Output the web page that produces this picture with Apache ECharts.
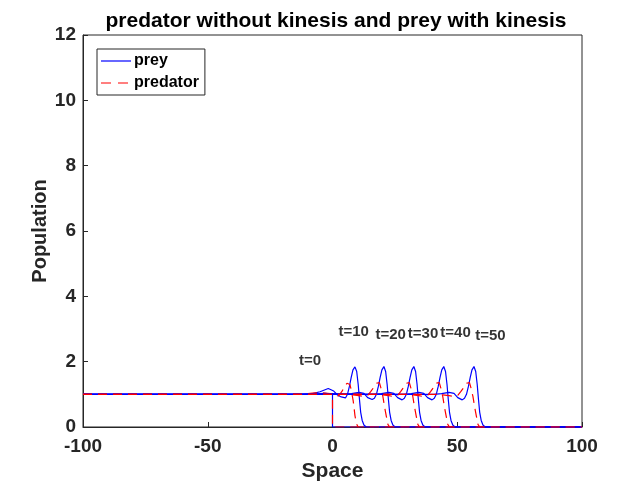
<!DOCTYPE html>
<html>
<head>
<meta charset="utf-8">
<script src="https://cdn.jsdelivr.net/npm/echarts@6/dist/echarts.min.js"></script>
<style>
  html, body { margin: 0; padding: 0; background: #fff; }
  #chart { width: 643px; height: 482px; }
</style>
</head>
<body>
<div id="chart"></div>
<script>
// snapshot times
var times = [0, 10, 20, 30, 40, 50]

// prey profiles [space, population], one per snapshot
var prey0 = [[-100, 1], [0, 1], [0, 0], [100, 0]]
var prey10 = [[-100, 1], [-14, 1], [-8, 1.02], [-5, 1.08], [-1.7, 1.18], [0.5, 1.1], [2, 0.98], [3.5, 0.92], [4.3, 0.88], [5.2, 0.89], [6.0, 1.0], [6.8, 1.25], [7.5, 1.52], [8.2, 1.75], [9.0, 1.84], [9.7, 1.7], [10.3, 1.3], [10.8, 0.85], [11.3, 0.45], [11.9, 0.2], [12.6, 0.06], [13.5, 0], [100, 0]]
var prey20 = [[-100, 1], [-10, 1], [-3, 1.03], [1, 1.0], [4.6, 1.0], [7.6, 1.02], [10.6, 1.06], [12.6, 1.03], [14.1, 0.9], [15.9, 0.84], [16.8, 0.88], [17.6, 1.0], [18.4, 1.25], [19.1, 1.52], [19.8, 1.75], [20.6, 1.85], [21.3, 1.7], [21.9, 1.3], [22.4, 0.85], [22.9, 0.45], [23.5, 0.2], [24.2, 0.06], [25.1, 0], [100, 0]]
var prey30 = [[-100, 1], [-6, 1], [0, 1.02], [8, 1.0], [16.6, 1.0], [19.6, 1.02], [22.6, 1.06], [24.6, 1.03], [26.1, 0.9], [27.9, 0.83], [28.8, 0.88], [29.6, 1.0], [30.4, 1.25], [31.1, 1.52], [31.8, 1.75], [32.6, 1.85], [33.3, 1.7], [33.9, 1.3], [34.4, 0.85], [34.9, 0.45], [35.5, 0.2], [36.2, 0.06], [37.1, 0], [100, 0]]
var prey40 = [[-100, 1], [-4, 1], [28.6, 1.0], [31.6, 1.02], [34.6, 1.06], [36.6, 1.03], [38.1, 0.9], [39.9, 0.83], [40.8, 0.88], [41.6, 1.0], [42.4, 1.25], [43.1, 1.52], [43.8, 1.75], [44.6, 1.85], [45.3, 1.7], [45.9, 1.3], [46.4, 0.85], [46.9, 0.45], [47.5, 0.2], [48.2, 0.06], [49.1, 0], [100, 0]]
var prey50 = [[-100, 1], [40.7, 1.0], [43.7, 1.02], [46.7, 1.06], [48.7, 1.03], [50.2, 0.9], [52.0, 0.83], [52.9, 0.88], [53.7, 1.0], [54.5, 1.25], [55.2, 1.52], [55.9, 1.75], [56.7, 1.85], [57.4, 1.7], [58.0, 1.3], [58.5, 0.85], [59.0, 0.45], [59.6, 0.2], [60.3, 0.06], [61.2, 0], [100, 0]]

// predator profiles
var pred0 = [[-100, 1], [0, 1], [0, 0], [100, 0]]
var pred10 = [[-100, 1], [-12, 1], [-8, 1.04], [-4, 1.05], [-1, 1.02], [1, 0.96], [2.5, 0.95], [3.7, 1.08], [5.0, 1.25], [5.8, 1.34], [6.4, 1.38], [7.0, 1.3], [7.6, 1.1], [8.3, 0.8], [9.0, 0.35], [9.6, 0.1], [10.3, 0], [100, 0]]
var pred20 = [[-100, 1], [-10, 1], [-2, 1.02], [6.6, 1.0], [10.6, 0.96], [12.6, 0.93], [14.1, 0.97], [15.3, 1.08], [16.6, 1.22], [17.6, 1.34], [18.2, 1.39], [18.8, 1.36], [19.4, 1.2], [20.2, 0.93], [20.9, 0.6], [21.6, 0.32], [22.2, 0.08], [22.9, 0], [100, 0]]
var pred30 = [[-100, 1], [-5, 1], [18.6, 1.0], [22.6, 0.96], [24.6, 0.93], [26.1, 0.97], [27.3, 1.08], [28.6, 1.22], [29.6, 1.34], [30.2, 1.39], [30.8, 1.36], [31.4, 1.2], [32.2, 0.93], [32.9, 0.6], [33.6, 0.32], [34.2, 0.08], [34.9, 0], [100, 0]]
var pred40 = [[-100, 1], [30.6, 1.0], [34.6, 0.96], [36.6, 0.93], [38.1, 0.97], [39.3, 1.08], [40.6, 1.22], [41.6, 1.34], [42.2, 1.39], [42.8, 1.36], [43.4, 1.2], [44.2, 0.93], [44.9, 0.6], [45.6, 0.32], [46.2, 0.08], [46.9, 0], [100, 0]]
var pred50 = [[-100, 1], [42.7, 1.0], [46.7, 0.96], [48.7, 0.93], [50.2, 0.97], [51.4, 1.08], [52.7, 1.22], [53.7, 1.34], [54.3, 1.39], [54.9, 1.36], [55.5, 1.2], [56.3, 0.93], [57.0, 0.6], [57.7, 0.32], [58.3, 0.08], [59.0, 0], [100, 0]]

// text annotations
var labelText = ['t=0', 't=10', 't=20', 't=30', 't=40', 't=50']
var labelX = [-13.6, 2.2, 17, 30, 43, 57]
var labelY = [2.02, 2.92, 2.82, 2.85, 2.87, 2.78]

var preyAll = [prey0, prey10, prey20, prey30, prey40, prey50]
var predAll = [pred0, pred10, pred20, pred30, pred40, pred50]

var ink = '#262626'
var font = 'Liberation Sans, Arial, Helvetica, sans-serif'

var series = []
for (var i = 0; i < times.length; i++) {
  series.push({
    name: 'prey',
    type: 'line',
    data: preyAll[i],
    showSymbol: false,
    symbol: 'none',
    animation: false,
    lineStyle: { color: '#0000ff', width: 1.2 },
    itemStyle: { color: '#0000ff' }
  })
  series.push({
    name: 'predator',
    type: 'line',
    data: predAll[i],
    showSymbol: false,
    symbol: 'none',
    animation: false,
    lineStyle: { color: '#ff0000', width: 1.2, type: [9, 6] },
    itemStyle: { color: '#ff0000' }
  })
}

var labelData = []
for (var k = 0; k < labelText.length; k++) {
  labelData.push({ name: labelText[k], value: [labelX[k], labelY[k]] })
}
series.push({
  name: 'labels',
  type: 'scatter',
  data: labelData,
  symbolSize: 1,
  itemStyle: { color: 'rgba(0,0,0,0)' },
  animation: false,
  silent: true,
  label: {
    show: true,
    position: 'right',
    distance: 0,
    formatter: '{b}',
    color: '#000',
    fontFamily: font,
    fontWeight: 'bold',
    fontSize: 15
  }
})

var chart = echarts.init(document.getElementById('chart'))
chart.setOption({
  backgroundColor: '#fff',
  animation: false,
  title: {
    text: 'predator without kinesis and prey with kinesis',
    left: 331,
    textAlign: 'center',
    top: 6,
    textStyle: { color: '#000', fontFamily: font, fontWeight: 'bold', fontSize: 21 }
  },
  legend: {
    data: [
      { name: 'prey', icon: 'path://M0,0h30v1.2h-30z' },
      { name: 'predator', icon: 'path://M0,0h10v1.2h-10zM17,0h10v1.2h-10z M30,0h0v1.2h0z' }
    ],
    orient: 'vertical',
    left: 97,
    top: 49,
    padding: [4, 6, 4, 4],
    itemGap: 6,
    itemWidth: 30,
    itemHeight: 14,
    backgroundColor: '#fff',
    borderColor: ink,
    borderWidth: 1,
    textStyle: { color: '#000', fontFamily: font, fontWeight: 'bold', fontSize: 16, padding: [0, 0, 0, -2] }
  },
  grid: {
    left: 83,
    right: 61,
    top: 35,
    bottom: 55,
    outerBoundsMode: 'none',
    containLabel: false,
    show: true,
    borderColor: ink,
    borderWidth: 1,
    backgroundColor: '#fff'
  },
  xAxis: {
    type: 'value',
    min: -100,
    max: 100,
    interval: 50,
    name: 'Space',
    nameLocation: 'middle',
    nameGap: 30,
    nameTextStyle: { color: ink, fontFamily: font, fontWeight: 'bold', fontSize: 21 },
    axisLine: { onZero: false, lineStyle: { color: ink } },
    axisTick: { inside: true, length: 5, lineStyle: { color: ink } },
    axisLabel: { color: ink, fontFamily: font, fontWeight: 'bold', fontSize: 19, margin: 10 },
    splitLine: { show: false }
  },
  yAxis: {
    type: 'value',
    min: 0,
    max: 12,
    interval: 2,
    name: 'Population',
    nameLocation: 'middle',
    nameGap: 33,
    nameMoveOverlap: false,
    nameTextStyle: { color: ink, fontFamily: font, fontWeight: 'bold', fontSize: 20 },
    axisLine: { show: true, onZero: false, lineStyle: { color: ink } },
    axisTick: { show: true, inside: true, length: 5, lineStyle: { color: ink } },
    axisLabel: { color: ink, fontFamily: font, fontWeight: 'bold', fontSize: 19, margin: 7 },
    splitLine: { show: false }
  },
  series: series
})
</script>
</body>
</html>
